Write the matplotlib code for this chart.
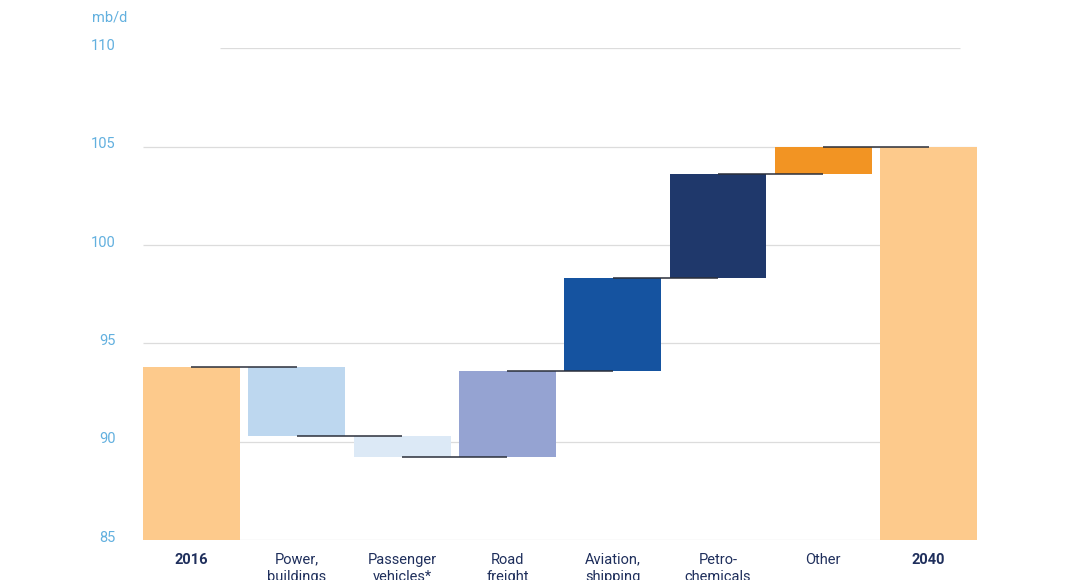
import matplotlib.pyplot as plt

plt.rcParams["font.family"] = ["Roboto", "DejaVu Sans"]

categories = ["2016", "Power,\nbuildings", "Passenger\nvehicles*", "Road\nfreight",
              "Aviation,\nshipping", "Petro-\nchemicals", "Other", "2040"]
start_value = 93.8
changes = [-3.5, -1.1, 4.4, 4.7, 5.3, 1.4]
end_value = 105.0
colors = ["#fdca8c", "#bdd7ef", "#dce9f6", "#95a3d2", "#1553a0", "#1f386b", "#f29423", "#fdca8c"]
y_ticks = [85, 90, 95, 100, 105, 110]

fig = plt.figure(figsize=(10.68, 5.8), dpi=100)
ax = fig.add_axes([0.1339, 0.069, 0.781, 0.848])
ax.set_xlim(-0.46, 7.46)
ax.set_ylim(85, 110)

# gridlines
for t in y_ticks:
    if t == 110:
        ax.hlines(t, 0.27, 7.30, color="#dcdcdc", lw=0.9, zorder=0)
    else:
        ax.hlines(t, -0.46, 7.46, color="#dcdcdc", lw=0.9, zorder=0)

w = 0.92
# bars
bottoms, heights = [85], [start_value - 85]
level = start_value
levels = [start_value]
for c in changes:
    new = level + c
    bottoms.append(min(level, new))
    heights.append(abs(c))
    level = new
    levels.append(level)
bottoms.append(85)
heights.append(end_value - 85)

ax.bar(range(len(categories)), heights, bottom=bottoms, width=w, color=colors, zorder=2)

# connectors
for i, lv in enumerate(levels):
    ax.hlines(lv, i, i + 1, color="#2b2f3a", lw=1.1, zorder=3)

for s in ax.spines.values():
    s.set_visible(False)
ax.set_xticks([])
ax.set_yticks([])

# y labels
for t in y_ticks:
    ax.text(-0.72, t + 0.12, str(t), ha="right", va="center",
            color="#62b0df", fontsize=10.5)
fig.text(92 / 1068, 1 - 17 / 580, "mb/d", color="#62b0df", fontsize=10.5, ha="left", va="center")

# category labels
for i, lab in enumerate(categories):
    bold = lab in ("2016", "2040")
    ax.text(i, 84.35, lab, ha="center", va="top", fontsize=10.5, color="#1f2f5c",
            fontweight="bold" if bold else "normal", linespacing=1.3)

fig.savefig("out.png", dpi=100)
